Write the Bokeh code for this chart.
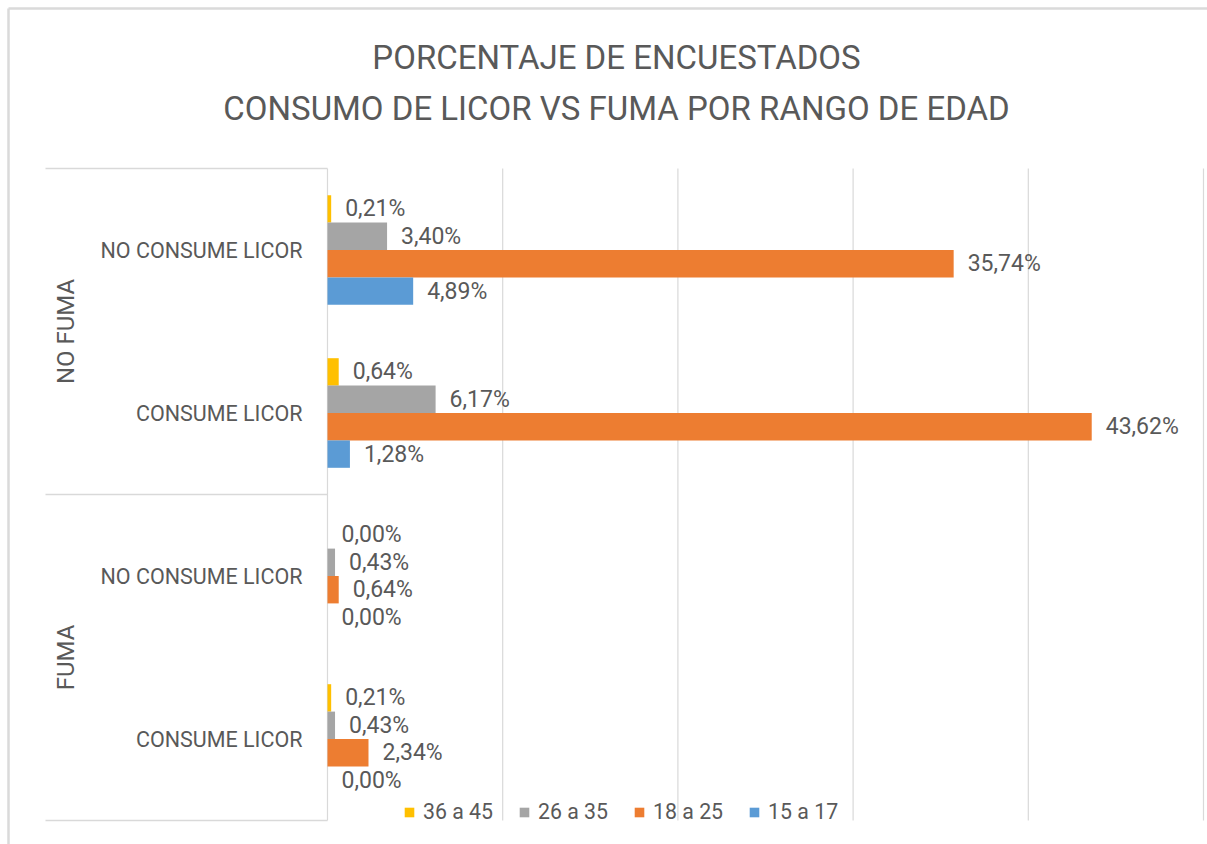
import math
from bokeh.plotting import figure
from bokeh.models import ColumnDataSource, Legend, LegendItem, Label
from bokeh.core.properties import value
from bokeh.embed import file_html
from bokeh.resources import INLINE

# ---------------- data ----------------
groups = ["NO FUMA", "NO FUMA", "FUMA", "FUMA"]
categories = ["NO CONSUME LICOR", "CONSUME LICOR", "NO CONSUME LICOR", "CONSUME LICOR"]
series = ["36 a 45", "26 a 35", "18 a 25", "15 a 17"]
v_36_45 = [0.21, 0.64, 0.00, 0.21]
v_26_35 = [3.40, 6.17, 0.43, 0.43]
v_18_25 = [35.74, 43.62, 0.64, 2.34]
v_15_17 = [4.89, 1.28, 0.00, 0.00]
colors = ["#FFC000", "#A5A5A5", "#ED7D31", "#5B9BD5"]
x_ticks = [0, 10, 20, 30, 40, 50]
title_lines = ["PORCENTAJE DE ENCUESTADOS", "CONSUMO DE LICOR VS FUMA POR RANGO DE EDAD"]

values = [v_36_45, v_26_35, v_18_25, v_15_17]

# ---------------- layout ----------------
W, H = 1207, 844
PX_X = 17.52            # pixels per percentage point
PX_Y = 163.0            # pixels per category
X0_PX = 327             # pixel of value 0
TOP_PX = 168            # pixel of top of plot area
n = len(categories)
top_bound = n - 0.5
x_start = -X0_PX / PX_X
x_end = x_start + W / PX_X
y_end = top_bound + TOP_PX / PX_Y
y_start = y_end - H / PX_Y

TXT = "#595959"
GRID = "#D9D9D9"
FONT = "Roboto"

p = figure(width=W, height=H, x_range=(x_start, x_end), y_range=(y_start, y_end),
           output_backend="svg", toolbar_location=None,
           x_axis_location=None, y_axis_location=None, min_border=0)
p.outline_line_color = None
p.background_fill_color = "white"
p.border_fill_color = "white"
p.xgrid.visible = False
p.ygrid.visible = False

cat_y = [n - 1 - i for i in range(n)]
bar_h = 27.4 / PX_Y

# gridlines (within plot area only)
p.segment(x0=x_ticks, x1=x_ticks, y0=[-0.5] * len(x_ticks), y1=[top_bound] * len(x_ticks),
          line_color=GRID, line_width=1.2)

# category separator lines on the label area
label_left = (45 - X0_PX) / PX_X
group_bounds = [top_bound, top_bound - 2, -0.5]
p.segment(x0=[label_left] * 3, x1=[0] * 3, y0=group_bounds, y1=group_bounds,
          line_color=GRID, line_width=1.5)

# outer chart border (top and left edges)
bx = (8 - X0_PX) / PX_X
by = top_bound + (TOP_PX - 8) / PX_Y
p.segment(x0=[bx, bx], y0=[by, by], x1=[x_end, bx], y1=[by, y_start],
          line_color="#DADADA", line_width=2.5)

renderers = []
for j, (name, vals, col) in enumerate(zip(series, values, colors)):
    ys = [c + (1.5 - j) * bar_h for c in cat_y]
    labels = [f"{v:.2f}".replace(".", ",") + "%" for v in vals]
    src = ColumnDataSource(dict(y=ys, right=vals, left=[0] * n, lab=labels))
    r = p.hbar(y="y", left="left", right="right", height=bar_h, source=src,
               fill_color=col, line_color=None)
    renderers.append((name, r))
    p.text(x="right", y="y", text="lab", source=src, x_offset=14,
           text_align="left", text_baseline="middle",
           text_font=value(FONT), text_font_size="23px", text_color=TXT)

# category labels
p.text(x=[-25 / PX_X] * n, y=cat_y, text=categories, text_align="right",
       text_baseline="middle", text_font=value(FONT), text_font_size="21.5px",
       text_color=TXT)

# group labels (vertical)
grp_names = []
grp_y = []
for g, c in zip(groups, cat_y):
    if g not in grp_names:
        grp_names.append(g)
        grp_y.append([])
    grp_y[grp_names.index(g)].append(c)
grp_center = [sum(v) / len(v) for v in grp_y]
p.text(x=[(65 - X0_PX) / PX_X] * len(grp_names), y=grp_center, text=grp_names,
       angle=math.pi / 2, text_align="center", text_baseline="middle",
       text_font=value(FONT), text_font_size="24px", text_color=TXT)

# title
for line, ypix in zip(title_lines, [57, 108]):
    p.add_layout(Label(x=616, y=H - ypix, x_units="screen", y_units="screen",
                       text=line, text_align="center", text_baseline="middle",
                       text_font=FONT, text_font_size="33px", text_color=TXT))

legend = Legend(items=[LegendItem(label=nm, renderers=[r]) for nm, r in renderers],
                orientation="horizontal", location=(403, 20),
                glyph_width=12, glyph_height=12, label_standoff=8, spacing=25,
                padding=0, margin=0, border_line_color=None,
                background_fill_alpha=0, label_text_font=FONT,
                label_text_font_size="21.3px", label_text_color=TXT,
                label_height=10)
p.add_layout(legend)

open("out.html", "w").write(file_html(p, INLINE))
